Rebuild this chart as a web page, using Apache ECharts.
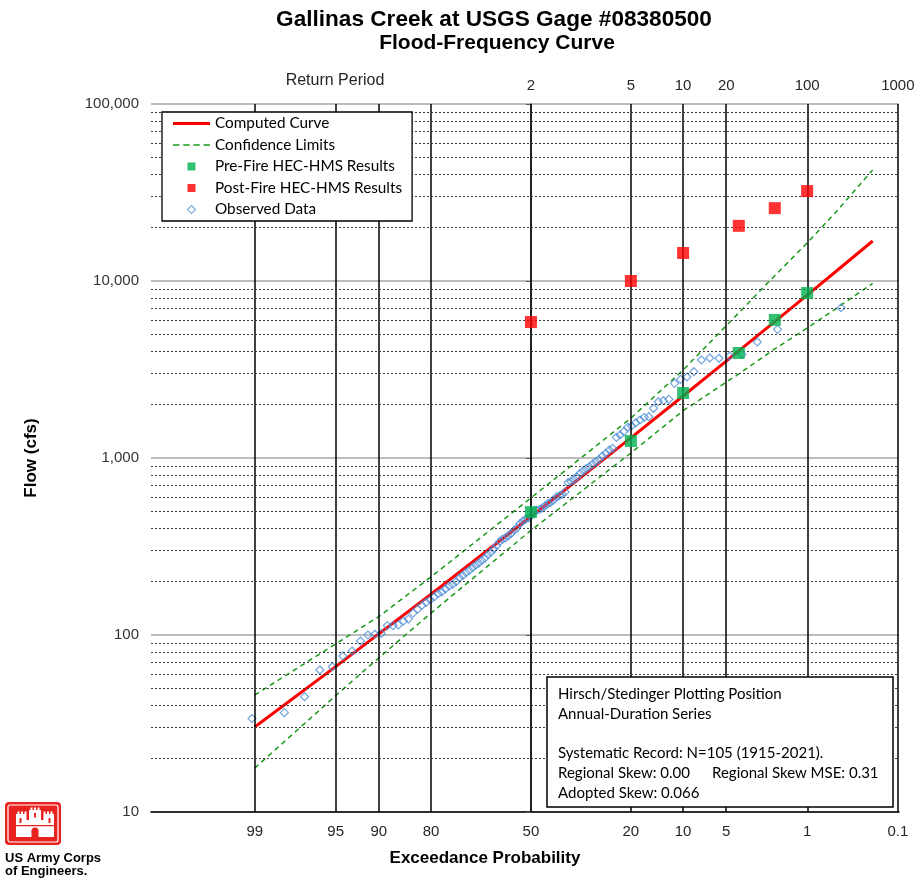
<!DOCTYPE html>
<html><head><meta charset="utf-8">
<script src="https://cdn.jsdelivr.net/npm/echarts@6/dist/echarts.min.js"></script>
<style>html,body{margin:0;padding:0;background:#fff}#c{width:918px;height:879px}</style>
</head><body><div id="c"></div>
<script>
// ---------- data (exceedance probability in %, flow in cfs) ----------
const probTicks = [99, 95, 90, 80, 50, 20, 10, 5, 1, 0.1];
const probTickLabels = ['99', '95', '90', '80', '50', '20', '10', '5', '1', '0.1'];
const returnPeriods = [2, 5, 10, 20, 100, 1000];
const returnLabels = ['2', '5', '10', '20', '100', '1000'];
const flowTicks = [10, 100, 1000, 10000, 100000];
const minorMultipliers = [2, 3, 4, 5, 6, 7, 8, 9];

const curveProb = [99, 95, 90, 80, 70, 60, 50, 40, 30, 20, 10, 5, 4, 2, 1, 0.5, 0.2];
const curveFlow = [30.2, 66.3, 101.5, 170, 249, 344, 467, 634, 882, 1300, 2240, 3530, 4030, 5890, 8320, 11430, 16830];

const limitProb = [99, 95, 90, 80, 50, 20, 10, 4, 2, 1, 0.5, 0.2];
const upperFlow = [45.8, 89, 127, 213, 595, 1680, 3140, 6610, 10720, 16400, 24800, 42400];
const lowerFlow = [17.7, 45.4, 74.3, 133, 390, 1067, 1850, 2985, 4130, 5420, 7030, 9700];

const hmsProb = [50, 20, 10, 4, 2, 1];
const preFireFlow = [495, 1247, 2330, 3920, 6030, 8550];
const postFireFlow = [5860, 10000, 14400, 20500, 25800, 32200];

const obsProb = [0.45, 1.89, 2.83, 3.77, 4.72, 5.66, 6.60, 7.55, 8.49, 9.43,
  10.38, 11.32, 12.26, 13.21, 14.15, 15.09, 16.04, 16.98, 17.92, 18.87,
  19.81, 20.75, 21.70, 22.64, 23.58, 24.53, 25.47, 26.42, 27.36, 28.30,
  29.25, 30.19, 31.13, 32.08, 33.02, 33.96, 34.91, 35.85, 36.79, 37.74,
  38.68, 39.62, 40.57, 41.51, 42.45, 43.40, 44.34, 45.28, 46.23, 47.17,
  48.11, 49.06, 50.00, 50.94, 51.89, 52.83, 53.77, 54.72, 55.66, 56.60,
  57.55, 58.49, 59.43, 60.38, 61.32, 62.26, 63.21, 64.15, 65.09, 66.04,
  66.98, 67.92, 68.87, 69.81, 70.75, 71.70, 72.64, 73.58, 74.53, 75.47,
  76.42, 77.36, 78.30, 79.25, 80.19, 81.13, 82.08, 83.02, 83.96, 84.91,
  85.85, 86.79, 87.74, 88.68, 89.62, 90.57, 91.51, 92.45, 93.40, 94.34,
  95.28, 96.23, 97.17, 98.11, 99.06];
const obsFlow = [7060, 5334, 4523, 3854, 3770, 3659, 3673, 3579, 3073, 2868,
  2783, 2642, 2146, 2107, 2080, 1909, 1711, 1698, 1639, 1582,
  1516, 1491, 1408, 1349, 1309, 1134, 1110, 1063, 1026, 983,
  953, 925, 893, 872, 846, 819, 784, 760, 737, 725,
  643, 623, 612, 603, 578, 561, 553, 537, 521, 513,
  505, 491, 471, 458, 450, 438, 425, 402, 391, 375,
  364, 354, 348, 338, 320, 306, 293, 284, 272, 264,
  255, 248, 240, 232, 225, 217, 210, 200, 193, 189,
  182, 175, 171, 164, 158, 153, 147, 140, 133, 123,
  120, 114, 113, 113, 102, 101, 100, 92.5, 81.2, 76.1,
  66.2, 63.4, 44.8, 36.4, 33.7];

// ---------- probability scale (standard normal quantile) ----------
function normInv(p) {
  const a = [-3.969683028665376e+01, 2.209460984245205e+02, -2.759285104469687e+02, 1.383577518672690e+02, -3.066479806614716e+01, 2.506628277459239e+00];
  const b = [-5.447609879822406e+01, 1.615858368580409e+02, -1.556989798598866e+02, 6.680131188771972e+01, -1.328068155288572e+01];
  const c = [-7.784894002430293e-03, -3.223964580411365e-01, -2.400758277161838e+00, -2.549732539343734e+00, 4.374664141464968e+00, 2.938163982698783e+00];
  const d = [7.784695709041462e-03, 3.224671290700398e-01, 2.445134137142996e+00, 3.754408661907416e+00];
  const pl = 0.02425, ph = 1 - pl;
  let q, r;
  if (p < pl) { q = Math.sqrt(-2 * Math.log(p)); return (((((c[0]*q+c[1])*q+c[2])*q+c[3])*q+c[4])*q+c[5]) / ((((d[0]*q+d[1])*q+d[2])*q+d[3])*q+1); }
  if (p <= ph) { q = p - 0.5; r = q*q; return (((((a[0]*r+a[1])*r+a[2])*r+a[3])*r+a[4])*r+a[5])*q / (((((b[0]*r+b[1])*r+b[2])*r+b[3])*r+b[4])*r+1); }
  q = Math.sqrt(-2 * Math.log(1 - p)); return -(((((c[0]*q+c[1])*q+c[2])*q+c[3])*q+c[4])*q+c[5]) / ((((d[0]*q+d[1])*q+d[2])*q+d[3])*q+1);
}
const zOf = pct => normInv(1 - pct / 100);
const pairs = (probs, vals) => probs.map((p, i) => [zOf(p), vals[i]]);

const probTickZ = probTicks.map(zOf);
const returnZ = returnPeriods.map(t => zOf(100 / t));
function lookup(zs, labels, v) {
  for (let i = 0; i < zs.length; i++) if (Math.abs(zs[i] - v) < 1e-6) return labels[i];
  return '';
}

const gridLines = [];
probTicks.forEach(p => gridLines.push({ xAxis: zOf(p), lineStyle: { color: '#000', width: 1.5, type: 'solid' } }));
flowTicks.slice(0, 4).forEach(d => minorMultipliers.forEach(m =>
  gridLines.push({ yAxis: d * m, lineStyle: { color: '#3a3a3a', width: 1, type: [2, 2] } })));

const FONT = '"Liberation Sans", Arial, sans-serif';
const LFONT = 'Lato, "Open Sans", sans-serif';

const chart = echarts.init(document.getElementById('c'), null, { renderer: 'canvas' });
chart.setOption({
  animation: false,
  backgroundColor: '#fff',
  grid: { left: 151, right: 19, top: 104, bottom: 67, containLabel: false },
  xAxis: [{
    type: 'value', position: 'bottom', min: -3.2, max: 3.1,
    axisLine: { show: true, onZero: false, lineStyle: { color: '#000', width: 1.5 } },
    axisTick: { show: false }, splitLine: { show: false },
    axisLabel: { customValues: probTickZ, margin: 12, fontSize: 15, fontFamily: FONT, color: '#262626',
      formatter: v => lookup(probTickZ, probTickLabels, v) }
  }, {
    type: 'value', position: 'top', min: -3.2, max: 3.1,
    axisLine: { show: false }, axisTick: { show: false }, splitLine: { show: false },
    axisLabel: { customValues: returnZ, margin: 11, fontSize: 15, fontFamily: FONT, color: '#262626',
      formatter: v => lookup(returnZ, returnLabels, v) }
  }],
  yAxis: {
    type: 'log', logBase: 10, min: 10, max: 100000,
    axisLine: { show: true, lineStyle: { color: '#5a5a5a', width: 1.5 } },
    axisTick: { show: true, length: 5, lineStyle: { color: '#5a5a5a', width: 1 } },
    axisLabel: { margin: 12, fontSize: 15, fontFamily: FONT, color: '#333',
      formatter: v => Math.round(v).toLocaleString('en-US') },
    splitLine: { show: true, lineStyle: { color: '#a6a6a6', width: 1.5 } }
  },
  legend: {
    orient: 'vertical', left: 162, top: 112,
    padding: [3, 10, 3, 11], itemGap: 4.5, itemWidth: 37, itemHeight: 8,
    backgroundColor: '#fff', borderColor: '#000', borderWidth: 1.3, borderRadius: 0,
    symbolKeepAspect: true, z: 20, selectedMode: false,
    textStyle: { fontFamily: LFONT, fontSize: 15.3, color: '#000', lineHeight: 17 },
    data: [
      { name: 'Computed Curve', icon: 'path://M0,0h37v3h-37z', itemStyle: { color: '#ff0000' } },
      { name: 'Confidence Limits', icon: 'path://M0,0h6v1.5h-6zM9.5,0h6v1.5h-6zM19,0h6v1.5h-6zM28.5,0h6v1.5h-6z', itemStyle: { color: '#1a9a1a' } },
      { name: 'Pre-Fire HEC-HMS Results', icon: 'path://M0,0h10v10h-10z', itemStyle: { color: '#00b050' } },
      { name: 'Post-Fire HEC-HMS Results', icon: 'path://M0,0h10v10h-10z', itemStyle: { color: '#ff0000' } },
      { name: 'Observed Data', icon: 'path://M5,0L10,5L5,10L0,5Z', itemStyle: { color: 'rgba(255,255,255,0)', borderColor: '#5b9bd5', borderWidth: 1.2 } }
    ]
  },
  series: [
    { name: 'grid', type: 'line', data: [], silent: true, z: 1, symbol: 'none',
      markLine: { silent: true, symbol: ['none', 'none'], label: { show: false }, animation: false, data: gridLines } },
    { name: 'Confidence Limits', type: 'line', data: pairs(limitProb, upperFlow), symbol: 'none', z: 2,
      lineStyle: { color: '#1a9a1a', width: 1.5, type: [5, 4] }, itemStyle: { color: '#1a9a1a' } },
    { name: 'Confidence Limits', type: 'line', data: pairs(limitProb, lowerFlow), symbol: 'none', z: 2,
      lineStyle: { color: '#1a9a1a', width: 1.5, type: [5, 4] }, itemStyle: { color: '#1a9a1a' } },
    { name: 'Computed Curve', type: 'line', data: pairs(curveProb, curveFlow), symbol: 'none', z: 3,
      lineStyle: { color: '#ff0000', width: 3 }, itemStyle: { color: '#ff0000' } },
    { name: 'Observed Data', type: 'scatter', data: pairs(obsProb, obsFlow), symbol: 'diamond', symbolSize: 8, z: 4,
      itemStyle: { color: 'rgba(255,255,255,0)', borderColor: '#4f8fd6', borderWidth: 1.2 } },
    { name: 'Pre-Fire HEC-HMS Results', type: 'scatter', data: pairs(hmsProb, preFireFlow), symbol: 'rect', symbolSize: 12, z: 5,
      itemStyle: { color: '#00b050' } },
    { name: 'Post-Fire HEC-HMS Results', type: 'scatter', data: pairs(hmsProb, postFireFlow), symbol: 'rect', symbolSize: 12, z: 5,
      itemStyle: { color: '#ff0000' } }
  ],
  graphic: [
    { type: 'text', x: 494, y: 20, z: 50, style: { text: 'Gallinas Creek at USGS Gage #08380500', font: 'bold 22.6px ' + FONT, fill: '#000', textAlign: 'center', textVerticalAlign: 'middle' } },
    { type: 'text', x: 497, y: 43, z: 50, style: { text: 'Flood-Frequency Curve', font: 'bold 21px ' + FONT, fill: '#000', textAlign: 'center', textVerticalAlign: 'middle' } },
    { type: 'text', x: 335, y: 81, z: 50, style: { text: 'Return Period', font: '16px ' + FONT, fill: '#262626', textAlign: 'center', textVerticalAlign: 'middle' } },
    { type: 'text', x: 31, y: 458, rotation: Math.PI / 2, z: 50, style: { text: 'Flow (cfs)', font: 'bold 17px ' + FONT, fill: '#000', textAlign: 'center', textVerticalAlign: 'middle' } },
    { type: 'text', x: 485, y: 858, z: 50, style: { text: 'Exceedance Probability', font: 'bold 17px ' + FONT, fill: '#000', textAlign: 'center', textVerticalAlign: 'middle' } },
    // statistics box
    { type: 'rect', z: 100, shape: { x: 547, y: 677, width: 346, height: 130 }, style: { fill: '#fff', stroke: '#000', lineWidth: 1.5 } },
    { type: 'text', x: 558, y: 694, z: 101, style: { text: 'Hirsch/Stedinger Plotting Position', font: '15px ' + LFONT, fill: '#000', textVerticalAlign: 'middle' } },
    { type: 'text', x: 558, y: 714, z: 101, style: { text: 'Annual-Duration Series', font: '15px ' + LFONT, fill: '#000', textVerticalAlign: 'middle' } },
    { type: 'text', x: 558, y: 753, z: 101, style: { text: 'Systematic Record: N=105 (1915-2021).', font: '15px ' + LFONT, fill: '#000', textVerticalAlign: 'middle' } },
    { type: 'text', x: 558, y: 773, z: 101, style: { text: 'Regional Skew: 0.00', font: '15px ' + LFONT, fill: '#000', textVerticalAlign: 'middle' } },
    { type: 'text', x: 712, y: 773, z: 101, style: { text: 'Regional Skew MSE: 0.31', font: '15px ' + LFONT, fill: '#000', textVerticalAlign: 'middle' } },
    { type: 'text', x: 558, y: 793, z: 101, style: { text: 'Adopted Skew: 0.066', font: '15px ' + LFONT, fill: '#000', textVerticalAlign: 'middle' } },
    // USACE logo
    { type: 'group', x: 5, y: 802, z: 60, children: [
      { type: 'rect', shape: { x: 0, y: 0, width: 56, height: 43, r: 4 }, style: { fill: '#e8231f' } },
      { type: 'rect', shape: { x: 3, y: 3, width: 50, height: 37, r: 2 }, style: { fill: 'none', stroke: '#fff', lineWidth: 1.2 } },
      { type: 'polygon', shape: { points: [[11,35],[11,12],[12.5,12],[12.5,9.5],[14.5,9.5],[14.5,12],[16,12],[16,9.5],[18,9.5],[18,12],[19.5,12],[19.5,9.5],[21.5,9.5],[21.5,18],
        [24,18],[24,8],[25.5,8],[25.5,5.5],[27.5,5.5],[27.5,8],[29,8],[29,5.5],[31,5.5],[31,8],[32.5,8],[32.5,5.5],[34.5,5.5],[34.5,8],[36,8],[36,18],
        [38.5,18],[38.5,9.5],[40.5,9.5],[40.5,12],[42,12],[42,9.5],[44,9.5],[44,12],[45.5,12],[45.5,9.5],[47.5,9.5],[47.5,12],[49,12],[49,35]] },
        style: { fill: '#fff' } },
      { type: 'rect', shape: { x: 26.5, y: 29, width: 7, height: 6 }, style: { fill: '#e8231f' } },
      { type: 'circle', shape: { cx: 30, cy: 29, r: 3.5 }, style: { fill: '#e8231f' } },
      { type: 'rect', shape: { x: 14.5, y: 16, width: 2, height: 5 }, style: { fill: '#e8231f' } },
      { type: 'rect', shape: { x: 43.5, y: 16, width: 2, height: 5 }, style: { fill: '#e8231f' } },
      { type: 'rect', shape: { x: 29, y: 11, width: 2, height: 4.5 }, style: { fill: '#e8231f' } },
      { type: 'rect', shape: { x: 11, y: 23, width: 38, height: 1.3 }, style: { fill: '#e8231f' } }
    ] },
    { type: 'text', x: 5, y: 858, z: 60, style: { text: 'US Army Corps', font: 'bold 13px ' + FONT, fill: '#000', textVerticalAlign: 'middle' } },
    { type: 'text', x: 5, y: 871, z: 60, style: { text: 'of Engineers.', font: 'bold 13px ' + FONT, fill: '#000', textVerticalAlign: 'middle' } }
  ]
});
</script>
</body></html>
